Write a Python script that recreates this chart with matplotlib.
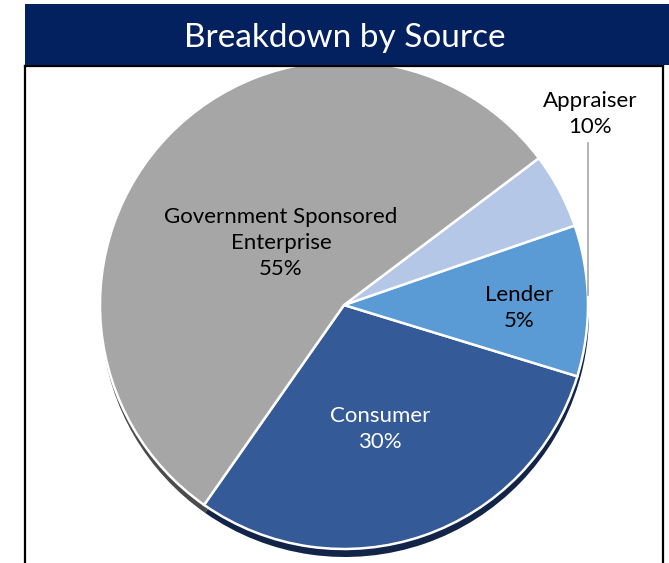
import matplotlib
matplotlib.use("Agg")
import matplotlib.pyplot as plt
from matplotlib.patches import Rectangle
from matplotlib.lines import Line2D
import numpy as np

# ---- data ----
categories = ["Consumer", "Appraiser", "Lender", "Government Sponsored\nEnterprise"]
values = [30, 10, 5, 55]
pct_labels = ["30%", "10%", "5%", "55%"]
title_text = "Breakdown by Source"

# ---- styles ----
colors = ["#345A98", "#5B9BD5", "#B4C7E7", "#A6A6A6"]
shadow_colors = ["#122448", "#122448", "#122448", "#4B4B4B"]
text_colors = ["white", "black", "black", "black"]

W, H = 669, 563
fig = plt.figure(figsize=(W / 100, H / 100), dpi=100)
ax = fig.add_axes([0, 0, 1, 1])

FONT = ["Lato", "DejaVu Sans"]

cx, cy, r = 344, H - 305, 244
start = -125

# shadow
ax.pie(values, colors=shadow_colors, startangle=start, counterclock=True,
       center=(cx + 1, cy - 8), radius=r, frame=True,
       wedgeprops=dict(linewidth=0))
# main pie
wedges, _ = ax.pie(values, colors=colors, startangle=start, counterclock=True,
                   center=(cx, cy), radius=r, frame=True,
                   wedgeprops=dict(edgecolor="white", linewidth=1.8))

ax.set_xlim(0, W)
ax.set_ylim(0, H)
ax.set_aspect("auto")
ax.axis("off")

# labels (positions in pixel coords from top)
label_pos = {
    "Consumer": (380, 429),
    "Appraiser": (590, 114),
    "Lender": (519, 308),
    "Government Sponsored\nEnterprise": (281, 243),
}
fs = 16
for cat, pct, tc, w in zip(categories, pct_labels, text_colors, wedges):
    x, y = label_pos[cat]
    ax.text(x, H - y, f"{cat}\n{pct}", ha="center", va="center",
            fontsize=fs, color=tc, family=FONT, linespacing=1.38)

# leader line for Appraiser
idx = categories.index("Appraiser")
wd = wedges[idx]
mid = np.deg2rad((wd.theta1 + wd.theta2) / 2)
ex = cx + r * np.cos(mid)
ey = cy + r * np.sin(mid)
ax.add_line(Line2D([ex, ex], [H - 143, ey + 6], color="#A6A6A6", lw=1.2))

# frame
ax.add_line(Line2D([25, 25], [0, H - 66], color="black", lw=1.6))
ax.add_line(Line2D([663, 663], [0, H - 66], color="black", lw=1.6))
ax.add_line(Line2D([25, 663], [H - 66, H - 66], color="black", lw=1.6))

# title bar
ax.add_patch(Rectangle((25, H - 65), W - 25, 61, facecolor="#04215F",
                       edgecolor="none", zorder=5))
ax.text(345, H - 38, title_text, ha="center", va="center", fontsize=24,
        color="white", family=FONT, zorder=6)

fig.savefig("out.png", dpi=100)
